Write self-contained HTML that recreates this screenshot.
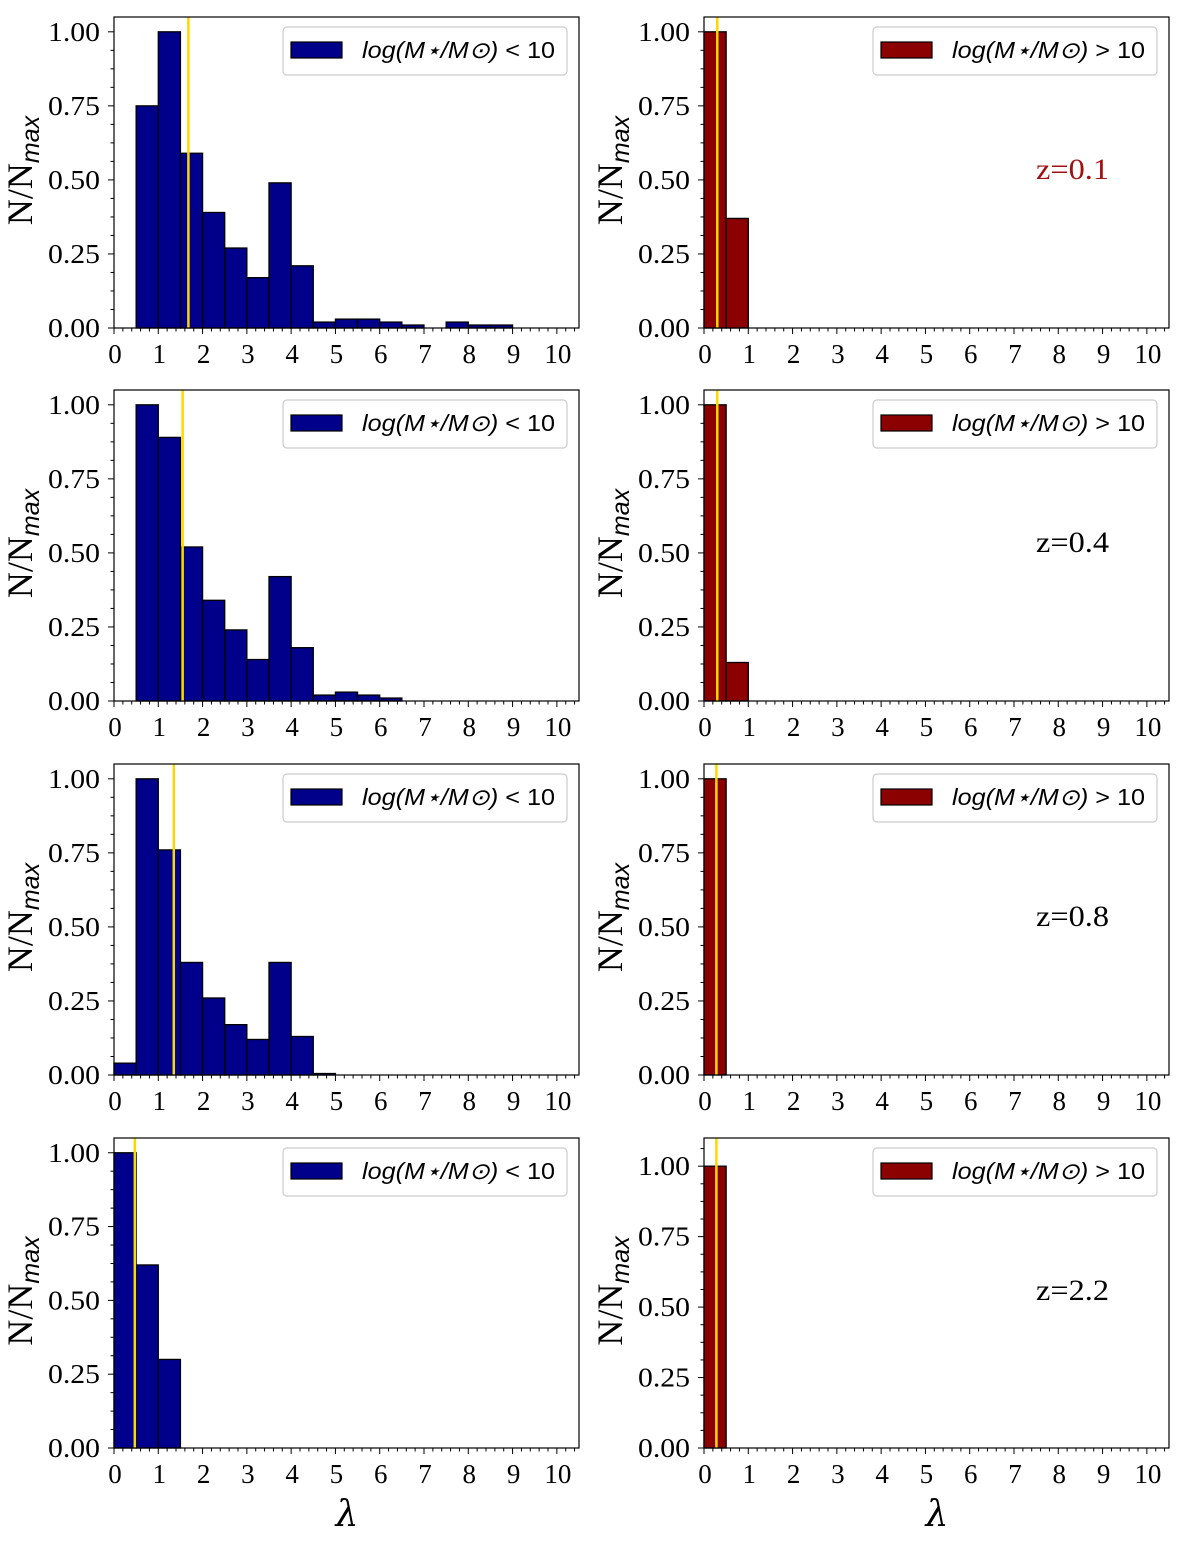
<!DOCTYPE html>
<html><head><meta charset="utf-8">
<style>
body{margin:0;background:#fff;}
svg{display:block;}
.tick{font-family:"Liberation Serif",serif;font-size:27px;fill:#000;}
</style></head>
<body>
<svg id="fig" width="1200" height="1550" xmlns="http://www.w3.org/2000/svg"></svg>
<script>
// bin values (bin width 0.5), start of first bin, median line, y-axis max
const binWidth = 0.5;
const r1LeftStart = 0.5;
const r1Left = [0.75,1.0,0.59,0.39,0.27,0.17,0.49,0.21,0.02,0.03,0.03,0.02,0.01,0,0.02,0.01,0.01];
const r1RightStart = 0;
const r1Right = [1.0,0.37];
const r2LeftStart = 0.5;
const r2Left = [1.0,0.89,0.52,0.34,0.24,0.14,0.42,0.18,0.02,0.03,0.02,0.01];
const r2RightStart = 0;
const r2Right = [1.0,0.13];
const r3LeftStart = 0;
const r3Left = [0.04,1.0,0.76,0.38,0.26,0.17,0.12,0.38,0.13,0.005];
const r3RightStart = 0;
const r3Right = [1.0];
const r4LeftStart = 0;
const r4Left = [1.0,0.62,0.30];
const r4RightStart = 0;
const r4Right = [1.0];
const medianLines = [1.68,0.30,1.55,0.30,1.35,0.28,0.47,0.28];
const yMaxes = [1.05,1.05,1.05,1.05,1.05,1.05,1.05,1.10];
const zLabels = ["z=0.1","z=0.4","z=0.8","z=2.2"];
const xTickLabels = ["0","1","2","3","4","5","6","7","8","9","10"];
const yTickLabels = ["0.00","0.25","0.50","0.75","1.00"];

const NS="http://www.w3.org/2000/svg";
const svg=document.getElementById('fig');
function mk(tag,attrs,parent){const e=document.createElementNS(NS,tag);for(const k in attrs)e.setAttribute(k,attrs[k]);(parent||svg).appendChild(e);return e;}

const rowsTop=[17,390,764,1138];
const rowsBottom=[328,701,1075,1448];
const colsLeft=[114,704];
const axW=465, xMax=10.5;
const panels=[
 {v:r1Left,s:r1LeftStart},{v:r1Right,s:r1RightStart},
 {v:r2Left,s:r2LeftStart},{v:r2Right,s:r2RightStart},
 {v:r3Left,s:r3LeftStart},{v:r3Right,s:r3RightStart},
 {v:r4Left,s:r4LeftStart},{v:r4Right,s:r4RightStart}];

panels.forEach((p,i)=>{
 const row=Math.floor(i/2), col=i%2;
 const L=colsLeft[col], T=rowsTop[row], B=rowsBottom[row];
 const ymax=yMaxes[i];
 const xs=x=>L+x/xMax*axW;
 const ys=y=>B-y/ymax*(B-T);
 const g=mk('g',{});
 
 
 const fill=col?'#8b0000':'#00008b';
 p.v.forEach((v,j)=>{
  if(v<=0)return;
  const x0=p.s+j*binWidth;
  const r=mk('rect',{x:xs(x0),y:ys(v),width:xs(x0+binWidth)-xs(x0),height:B-ys(v),fill:fill,stroke:'#000','stroke-width':1.3},g);
  
  
 });
 const ml=mk('line',{x1:xs(medianLines[i]),x2:xs(medianLines[i]),y1:T,y2:B,stroke:'#ffd700','stroke-width':2.5},g);
 
 
 const fr=mk('rect',{x:L,y:T,width:axW,height:B-T,fill:'none',stroke:'#000','stroke-width':1.2},g);
 
 
 for(let k=0;k<=52;k++){const xv=k*0.2;if(xv>xMax)break;const major=Math.abs(xv-Math.round(xv))<1e-6;
  mk('line',{x1:xs(xv),x2:xs(xv),y1:B,y2:B+(major?6:3.5),stroke:'#000','stroke-width':1},g);}
 xTickLabels.forEach((t,k)=>{const tx=mk('text',{x:xs(k)+1,y:B+35,'text-anchor':'middle',class:'tick'},g);tx.textContent=t;
  });
 for(let k=0;k*0.0625<=ymax+1e-9;k++){const yv=k*0.0625;const major=k%4===0;
  mk('line',{x1:L,x2:L-(major?6:3.5),y1:ys(yv),y2:ys(yv),stroke:'#000','stroke-width':1},g);}
 yTickLabels.forEach((t,k)=>{const tx=mk('text',{x:L-14,y:ys(k*0.25)+9,'text-anchor':'end',class:'tick',textLength:52,lengthAdjust:'spacingAndGlyphs'},g);tx.textContent=t;
  });
 const cy=(T+B)/2, cx=L-82;
 const yl=mk('text',{transform:`translate(${cx},${cy-2}) rotate(-90)`,'text-anchor':'middle','font-family':'"Liberation Serif",serif','font-size':36},g);
 
 const t1=mk('tspan',{},yl);t1.textContent='N/N';
 const t2=mk('tspan',{'font-family':'"Liberation Sans",sans-serif','font-style':'italic','font-size':25,dy:7},yl);t2.textContent='max';
 const lg=mk('g',{},g);
 
 mk('rect',{x:L+169,y:T+10,width:284,height:48,rx:4,fill:'#fff',stroke:'#ccc','stroke-width':1.2},lg);
 mk('rect',{x:L+177,y:T+25,width:51,height:16,fill:fill,stroke:'#000','stroke-width':1.2},lg);
 const lt=mk('text',{x:L+248,y:T+41,'font-family':'"Liberation Sans",sans-serif','font-size':23,textLength:193,lengthAdjust:'spacingAndGlyphs'},lg);
 const a=mk('tspan',{'font-style':'italic'},lt);a.textContent='log(M\u22C6/M\u2299)';
 const b=mk('tspan',{},lt);b.textContent=(col?' > ':' < ')+'10';
 if(col){const z=mk('text',{x:L+332,y:T+162,'font-family':'"Liberation Serif",serif','font-size':30,fill:row===0?'#a01010':'#000',textLength:73,lengthAdjust:'spacingAndGlyphs'},g);
  z.textContent=zLabels[row];}
 if(row===3){const lx=mk('text',{x:L+233,y:1526,'text-anchor':'middle','font-family':'"DejaVu Serif",serif','font-style':'italic','font-size':36},g);
  lx.textContent='\u03BB';}
});
</script>
</body></html>
